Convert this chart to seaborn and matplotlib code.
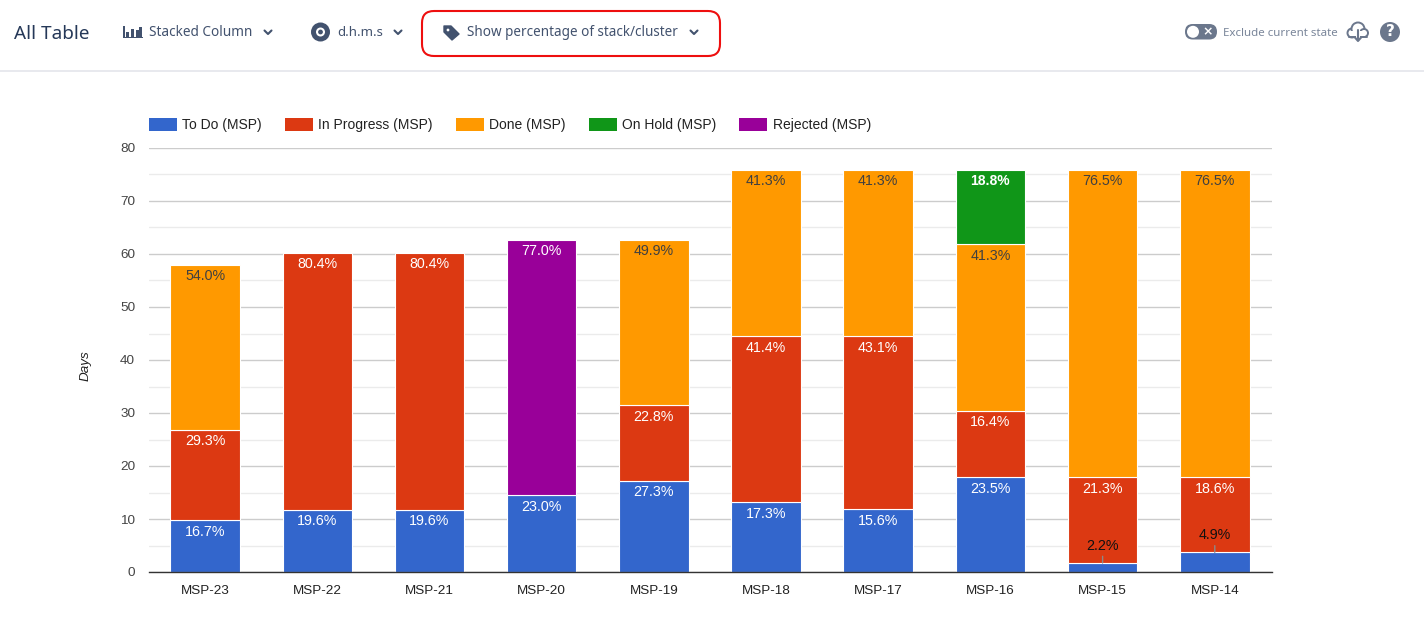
import numpy as np
import pandas as pd
import matplotlib
matplotlib.use("Agg")
import matplotlib.pyplot as plt
from matplotlib.patches import FancyBboxPatch, Rectangle, Circle, Polygon
import seaborn as sns

categories = ["MSP-23", "MSP-22", "MSP-21", "MSP-20", "MSP-19", "MSP-18", "MSP-17", "MSP-16", "MSP-15", "MSP-14"]
series_names = ["To Do (MSP)", "In Progress (MSP)", "Done (MSP)", "On Hold (MSP)", "Rejected (MSP)"]
series_colors = ["#3366cc", "#dc3912", "#ff9900", "#109618", "#990099"]
todo = [9.8, 11.7, 11.7, 14.5, 17.2, 13.2, 11.8, 17.9, 1.7, 3.7]
in_progress = [17.0, 48.5, 48.5, 0, 14.3, 31.3, 32.7, 12.5, 16.2, 14.2]
done = [31.2, 0, 0, 0, 31.2, 31.4, 31.4, 31.4, 58.0, 58.0]
on_hold = [0, 0, 0, 0, 0, 0, 0, 14.1, 0, 0]
rejected = [0, 0, 0, 48.2, 0, 0, 0, 0, 0, 0]
pct_todo = ["16.7%", "19.6%", "19.6%", "23.0%", "27.3%", "17.3%", "15.6%", "23.5%", "2.2%", "4.9%"]
pct_in_progress = ["29.3%", "80.4%", "80.4%", "", "22.8%", "41.4%", "43.1%", "16.4%", "21.3%", "18.6%"]
pct_done = ["54.0%", "", "", "", "49.9%", "41.3%", "41.3%", "41.3%", "76.5%", "76.5%"]
pct_on_hold = ["", "", "", "", "", "", "", "18.8%", "", ""]
pct_rejected = ["", "", "", "77.0%", "", "", "", "", "", ""]
y_ticks = [0, 10, 20, 30, 40, 50, 60, 70, 80]
y_minor = [5, 15, 25, 35, 45, 55, 65, 75]

W, H = 1424, 641
sns.set_theme(style="white")
plt.rcParams["font.family"] = ["Liberation Sans", "DejaVu Sans"]
fig = plt.figure(figsize=(W / 100, H / 100), dpi=100, facecolor="white")
ax = fig.add_axes([149 / W, 1 - 572 / H, (1272 - 149) / W, (572 - 148) / H])

values = [todo, in_progress, done, on_hold, rejected]
labels = [pct_todo, pct_in_progress, pct_done, pct_on_hold, pct_rejected]
label_colors = ["white", "white", "#404040", "white", "white"]
bottom = np.zeros(len(categories))
LEADER = {"2.2%", "4.9%"}
handles = []
ax.set_axisbelow(True)
for name, col, vals, labs, lc in zip(series_names, series_colors, values, labels, label_colors):
    df = pd.DataFrame({"cat": categories, "v": vals})
    n_before = len(ax.patches)
    sns.barplot(data=df, x="cat", y="v", order=categories, color=col, saturation=1,
                width=0.62, errorbar=None, bottom=bottom, edgecolor="white", linewidth=0.8,
                label=name, ax=ax)
    bars = ax.patches[n_before:]
    handles.append(Rectangle((0, 0), 1, 1, facecolor=col, edgecolor="none", label=name))
    for i, (b, lab) in enumerate(zip(bars, labs)):
        if vals[i] == 0:
            b.set_visible(False)
            continue
        top = bottom[i] + vals[i]
        if lab in LEADER:
            ax.annotate(lab, xy=(i, top), xytext=(0, 10 * 0.72), textcoords="offset points",
                        ha="center", va="bottom", fontsize=10.3, color="#111111",
                        arrowprops=dict(arrowstyle="-", color="#8a8a8a", lw=1, shrinkA=0, shrinkB=0))
        else:
            ax.annotate(lab, xy=(i, top), xytext=(0, -11.5 * 0.72), textcoords="offset points",
                        ha="center", va="center", fontsize=10 if col == "#109618" else 10.3, color=lc,
                        fontweight="bold" if col == "#109618" else "normal", zorder=5)
    bottom = bottom + np.array(vals)

ax.set_xlim(-0.5, 9.51)
ax.set_ylim(0, 80)
ax.set_yticks(y_ticks)
ax.set_yticks(y_minor, minor=True)
ax.grid(axis="y", which="major", color="#cccccc", lw=1)
ax.grid(axis="y", which="minor", color="#ebebeb", lw=1)
ax.grid(axis="x", visible=False)
for s in ["top", "left", "right"]:
    ax.spines[s].set_visible(False)
ax.spines["bottom"].set_color("#333333")
ax.spines["bottom"].set_linewidth(1)
ax.tick_params(axis="both", which="both", length=0)
ax.tick_params(axis="x", labelsize=9.7, labelcolor="#222222", pad=9)
ax.tick_params(axis="y", labelsize=9.7, labelcolor="#444444", pad=10)
ax.set_xlabel("")
ax.set_ylabel("Days", fontsize=9.7, style="italic", color="#222222", labelpad=0)
ax.yaxis.set_label_coords((92 - 149) / (1272 - 149), (572 - 366) / (572 - 148))

ax.legend(handles=handles, loc="lower left", bbox_to_anchor=(0, 1 + (148 - 132) / (572 - 148)),
          ncol=5, frameon=False, borderaxespad=0, borderpad=0, fontsize=10,
          handlelength=2.0, handleheight=1.1, handletextpad=0.4, columnspacing=1.66,
          labelcolor="#222222")

# header strip, drawn in pixel coordinates on a transparent overlay
ov = fig.add_axes([0, 0, 1, 1], facecolor="none")
ov.set_xlim(0, W)
ov.set_ylim(H, 0)
ov.axis("off")
HC = "#42526e"
GC = "#6b778c"
HF = ["Noto Sans", "DejaVu Sans"]
ov.add_patch(Rectangle((0, 70), W, 1.6, color="#e8e9ee", lw=0))
ov.text(14, 34, "All Table", fontsize=13.6, color="#253858", family=HF, va="center")
ov.text(149, 33, "Stacked Column", fontsize=9.8, color=HC, family=HF, va="center")
ov.text(337, 33, "d.h.m.s", fontsize=9.5, color=HC, family=HF, va="center")
ov.text(467, 33, "Show percentage of stack/cluster", fontsize=9.72, color=HC, family=HF, va="center")
ov.text(1223, 33, "Exclude current state", fontsize=8.3, color="#7a869a", family=HF, va="center")

# bar-chart icon
for x0, h in [(125.5, 5), (130.5, 8), (135.5, 6.5), (139, 10)]:
    ov.add_patch(Rectangle((x0, 36.5 - h), 3.2, h, color=HC, lw=0))
ov.add_patch(Rectangle((123, 36.5), 20, 1.6, color=HC, lw=0))
ov.add_patch(Rectangle((123, 26), 1.6, 11, color=HC, lw=0))

# chevrons
for cx in [268, 398, 694]:
    ov.plot([cx - 3.5, cx, cx + 3.5], [30.5, 34, 30.5], color=HC, lw=1.5, solid_capstyle="round")

# eye icon
ov.add_patch(Circle((320.5, 32), 9.5, color=HC, lw=0))
ov.add_patch(Circle((320.5, 32), 4.5, color="white", lw=0))
ov.add_patch(Circle((320.5, 32), 2.4, color=HC, lw=0))

# tag icon
ov.add_patch(Polygon([(444, 26), (451, 26), (459, 34), (452, 40), (444, 32)], closed=True,
                     facecolor=HC, edgecolor=HC, lw=1, joinstyle="round"))
ov.add_patch(Circle((448, 30), 1.4, color="white", lw=0))

# red highlight box
ov.add_patch(FancyBboxPatch((422, 11), 298, 45, boxstyle="round,pad=0,rounding_size=12",
                            facecolor="none", edgecolor="#ee0f0f", lw=1.5))

# toggle
ov.add_patch(FancyBboxPatch((1185, 24), 32, 15.5, boxstyle="round,pad=0,rounding_size=7.7",
                            facecolor=GC, edgecolor="none"))
ov.add_patch(Circle((1193, 31.8), 6, color="white", lw=0))
ov.text(1208, 31.8, "×", color="white", fontsize=9, fontweight="bold", ha="center", va="center",
        family=["DejaVu Sans"])

# cloud download icon
for c, r in [((1352, 33), 4.5), ((1358, 29), 6.5), ((1364, 33), 4)]:
    ov.add_patch(Circle(c, r, facecolor="white", edgecolor=GC, lw=1.4))
ov.add_patch(Rectangle((1350, 31), 15, 5, color="white", lw=0, zorder=3))
ov.plot([1348.5, 1367], [37, 37], color=GC, lw=1.4, zorder=3)
ov.add_patch(Rectangle((1356, 28), 4, 11, color="white", lw=0, zorder=3))
ov.plot([1358, 1358], [30, 40], color=GC, lw=1.5, zorder=4)
ov.plot([1354.5, 1358, 1361.5], [37, 41, 37], color=GC, lw=1.5, zorder=4)

# help icon
ov.add_patch(Circle((1390, 32), 10, color=GC, lw=0))
ov.text(1390, 32, "?", color="white", fontsize=11, fontweight="bold", ha="center", va="center",
        family=["DejaVu Sans"])

fig.savefig("out.png", dpi=100, facecolor="white")
